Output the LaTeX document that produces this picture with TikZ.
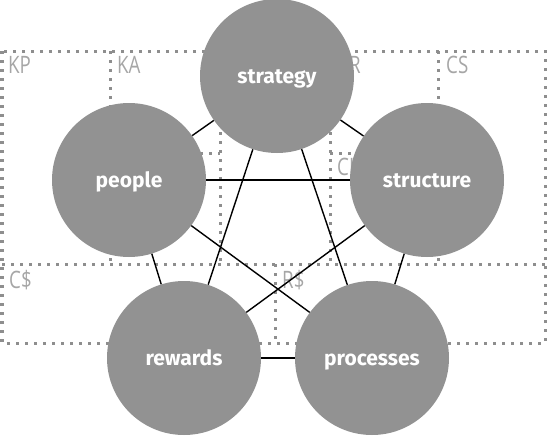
\documentclass[tikz,border=0pt]{standalone}
\usepackage{fontspec}
\setmainfont{Fira Sans}
\newfontfamily\cellfont[FakeStretch=0.78]{Open Sans}
\definecolor{discgray}{HTML}{929292}
\definecolor{dotgray}{HTML}{8E8E8E}
\definecolor{cellgray}{HTML}{A6A6A6}
\tikzset{disc/.style={circle,fill=discgray,minimum size=154pt,inner sep=0pt,text=white,text height=17pt,text depth=3pt,font=\fontsize{21}{21}\selectfont\bfseries},
  canvasline/.style={dotgray,line width=3pt,dash pattern=on 3pt off 6pt},
  cell/.style={anchor=north west,inner sep=0pt,text=cellgray,font=\cellfont\fontsize{24}{24}\selectfont},
  link/.style={black,line width=1.4pt}}

\begin{document}
\begin{tikzpicture}[x=1pt,y=-1pt]
    \useasboundingbox (0,0) rectangle (550,440);

    \draw [canvasline] (2,51) rectangle (545,343);
    \draw [canvasline] (2,264) -- (545,264);
    \draw [canvasline] (110,51) -- (110,264);
    \draw [canvasline] (220,51) -- (220,264);
    \draw [canvasline] (330,51) -- (330,264);
    \draw [canvasline] (438,51) -- (438,264);
    \draw [canvasline] (110,153) -- (220,153);
    \draw [canvasline] (330,153) -- (438,153);
    \draw [canvasline] (275,264) -- (275,343);

    \node[cell] (kp) at (8,56) {KP};
    \node[cell] (ka) at (117,56) {KA};
    \node[cell] (cr) at (337,56) {CR};
    \node[cell] (ch) at (337,158) {CH};
    \node[cell] (cs) at (446,56) {CS};
    \node[cell] (cost) at (9,270) {C\$};
    \node[cell] (rev) at (282,270) {R\$};

    \node[disc] (strategy) at (277,76) {strategy};
    \node[disc] (people) at (129,180) {people};
    \node[disc] (structure) at (427,180) {structure};
    \node[disc] (rewards) at (184,358) {rewards};
    \node[disc] (processes) at (372,358) {processes};

    \draw [link] (strategy) to (people);
    \draw [link] (strategy) to (structure);
    \draw [link] (strategy) to (rewards);
    \draw [link] (strategy) to (processes);
    \draw [link] (people) to (structure);
    \draw [link] (people) to (rewards);
    \draw [link] (people) to (processes);
    \draw [link] (structure) to (rewards);
    \draw [link] (structure) to (processes);
    \draw [link] (rewards) to (processes);
\end{tikzpicture}
\end{document}
